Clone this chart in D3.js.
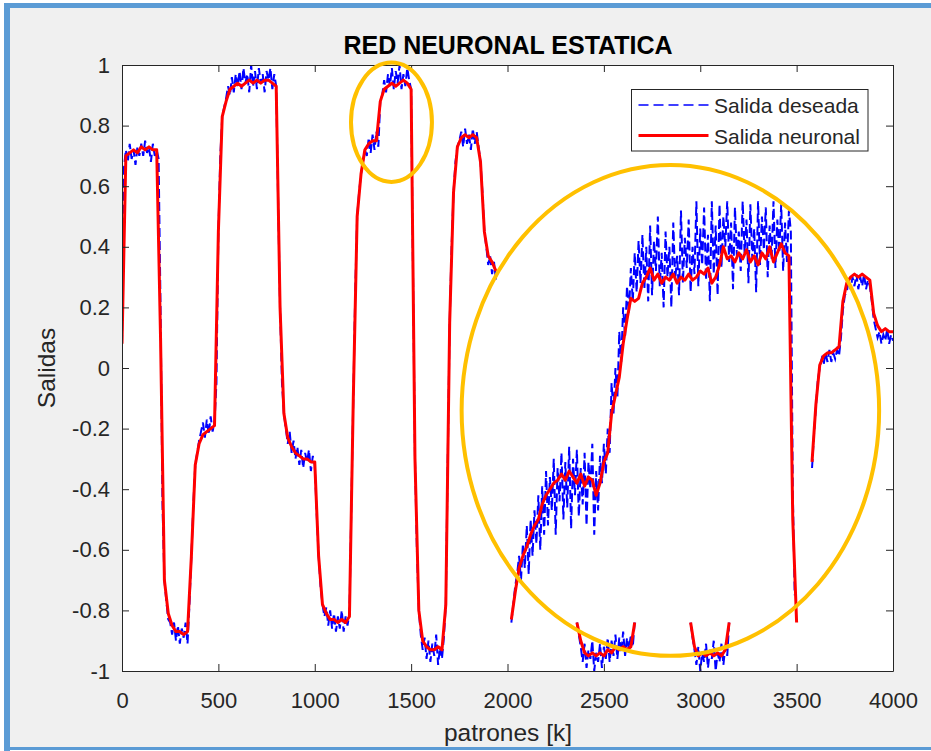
<!DOCTYPE html>
<html>
<head>
<meta charset="utf-8">
<script src="https://cdn.jsdelivr.net/npm/d3@7"></script>
<style>
  html, body { margin: 0; padding: 0; background: #ffffff; }
  svg { display: block; font-family: "Liberation Sans", Arial, Helvetica, sans-serif; }
</style>
</head>
<body>
<svg id="chart" width="931" height="751"></svg>
<script>
// ---- Datos ----
const xTicks = [0, 500, 1000, 1500, 2000, 2500, 3000, 3500, 4000];
const xTickLabels = ["0", "500", "1000", "1500", "2000", "2500", "3000", "3500", "4000"];
const yTicks = [-1, -0.8, -0.6, -0.4, -0.2, 0, 0.2, 0.4, 0.6, 0.8, 1];
const yTickLabels = ["-1", "-0.8", "-0.6", "-0.4", "-0.2", "0", "0.2", "0.4", "0.6", "0.8", "1"];
const legendLabels = ["Salida deseada", "Salida neuronal"];

// Salida neuronal (paso 20 patrones por muestra)
const neuronal1Inicio = 0;      // k = 0 .. 1940
const neuronal1 = [
  0.08, 0.70, 0.71, 0.72, 0.71, 0.73, 0.72, 0.73, 0.72, 0.72,
  0.10, -0.70, -0.81, -0.85, -0.87, -0.87, -0.88, -0.87, -0.62, -0.32,
  -0.25, -0.22, -0.21, -0.20, -0.19, 0.45, 0.83, 0.88, 0.92, 0.93,
  0.94, 0.93, 0.94, 0.95, 0.94, 0.95, 0.94, 0.95, 0.95, 0.94,
  0.93, 0.20, -0.15, -0.23, -0.26, -0.28, -0.29, -0.30, -0.30, -0.31,
  -0.31, -0.62, -0.78, -0.81, -0.83, -0.83, -0.84, -0.83, -0.84, -0.82,
  -0.10, 0.50, 0.64, 0.72, 0.74, 0.75, 0.75, 0.88, 0.92, 0.93,
  0.94, 0.93, 0.94, 0.95, 0.94, 0.92, -0.30, -0.80, -0.90, -0.92,
  -0.93, -0.93, -0.92, -0.93, -0.78, 0.15, 0.58, 0.73, 0.76, 0.77,
  0.76, 0.77, 0.76, 0.68, 0.45, 0.37, 0.35, 0.32
];
const neuronal2Inicio = 2020;   // k = 2020 .. 3500
const neuronal2 = [
  -0.83, -0.74, -0.66, -0.62, -0.59, -0.55, -0.52, -0.50, -0.45, -0.42,
  -0.40, -0.38, -0.37, -0.35, -0.37, -0.34, -0.36, -0.38, -0.35, -0.39,
  -0.36, -0.37, -0.42, -0.38, -0.31, -0.28, -0.15, -0.09, -0.03, 0.08,
  0.16, 0.23, 0.22, 0.23, 0.28, 0.30, 0.33, 0.29, 0.31, 0.28,
  0.30, 0.29, 0.31, 0.28, 0.30, 0.29, 0.31, 0.29, 0.30, 0.32,
  0.31, 0.33, 0.28, 0.30, 0.34, 0.40, 0.36, 0.37, 0.35, 0.38,
  0.36, 0.39, 0.35, 0.37, 0.34, 0.38, 0.36, 0.40, 0.35, 0.38,
  0.41, 0.38, 0.37, -0.50, -0.84
];
const neuronal3Inicio = 2360;   // k = 2360 .. 2660
const neuronal3 = [
  -0.84, -0.90, -0.94, -0.95, -0.94, -0.95, -0.94, -0.95, -0.93, -0.94,
  -0.92, -0.93, -0.92, -0.93, -0.92, -0.84
];
const neuronal4Inicio = 2950;   // k = 2950 .. 3150
const neuronal4 = [
  -0.84, -0.92, -0.95, -0.94, -0.95, -0.94, -0.95, -0.94, -0.95, -0.93, -0.84
];
const neuronal5Inicio = 3580;   // k = 3580 .. 4000
const neuronal5 = [
  -0.31, -0.12, 0.01, 0.04, 0.05, 0.05, 0.06, 0.07, 0.22, 0.28,
  0.30, 0.31, 0.30, 0.31, 0.30, 0.29, 0.18, 0.14, 0.12, 0.13,
  0.12, 0.12
];
const pasoNeuronal = 20;

// Salida deseada (paso 10 patrones por muestra)
const deseada1Inicio = 0;       // k = 0 .. 1940
const deseada1 = [
  0.08, 0.66, 0.72, 0.68, 0.74, 0.69, 0.72, 0.67, 0.73, 0.70,
  0.74, 0.70, 0.75, 0.71, 0.73, 0.68, 0.74, 0.70, 0.72, 0.69,
  0.20, -0.45, -0.70, -0.77, -0.83, -0.84, -0.88, -0.84, -0.90, -0.85,
  -0.91, -0.86, -0.89, -0.84, -0.91, -0.78, -0.62, -0.45, -0.32, -0.28,
  -0.24, -0.21, -0.18, -0.23, -0.17, -0.22, -0.16, -0.21, -0.18, -0.05,
  0.45, 0.70, 0.83, 0.86, 0.89, 0.93, 0.90, 0.96, 0.91, 0.97,
  0.93, 0.98, 0.92, 0.99, 0.94, 0.97, 0.91, 1.00, 0.93, 0.98,
  0.92, 0.99, 0.94, 0.97, 0.91, 0.98, 0.95, 0.99, 0.92, 0.97,
  0.93, 0.55, 0.20, -0.05, -0.15, -0.20, -0.25, -0.21, -0.28, -0.24,
  -0.30, -0.26, -0.32, -0.27, -0.33, -0.28, -0.31, -0.27, -0.34, -0.29,
  -0.32, -0.48, -0.62, -0.72, -0.78, -0.82, -0.79, -0.85, -0.80, -0.86,
  -0.81, -0.87, -0.82, -0.86, -0.80, -0.87, -0.82, -0.85, -0.81, -0.45,
  -0.10, 0.25, 0.50, 0.58, 0.64, 0.68, 0.72, 0.70, 0.76, 0.71,
  0.77, 0.72, 0.78, 0.73, 0.88, 0.90, 0.95, 0.91, 0.97, 0.93,
  0.99, 0.92, 0.98, 0.94, 1.00, 0.92, 0.97, 0.93, 0.99, 0.95,
  0.92, 0.30, -0.30, -0.60, -0.80, -0.88, -0.93, -0.89, -0.96, -0.90,
  -0.97, -0.91, -0.95, -0.88, -0.98, -0.92, -0.96, -0.89, -0.78, -0.30,
  0.15, 0.40, 0.58, 0.68, 0.73, 0.75, 0.78, 0.73, 0.79, 0.74,
  0.77, 0.72, 0.79, 0.74, 0.78, 0.73, 0.68, 0.58, 0.45, 0.40,
  0.34, 0.37, 0.31, 0.35, 0.29
];
const deseada2Inicio = 2020;    // k = 2020 .. 3490
const deseada2 = [
  -0.84, -0.78, -0.72, -0.68, -0.62, -0.70, -0.58, -0.66,
  -0.52, -0.68, -0.50, -0.62, -0.47, -0.58, -0.42, -0.60, -0.39, -0.55,
  -0.34, -0.52, -0.36, -0.47, -0.30, -0.55, -0.33, -0.44, -0.28, -0.50,
  -0.31, -0.46, -0.26, -0.53, -0.30, -0.42, -0.27, -0.49, -0.33, -0.45,
  -0.28, -0.52, -0.31, -0.40, -0.25, -0.55, -0.34, -0.47, -0.29, -0.38,
  -0.25, -0.35, -0.20, -0.28, -0.05, -0.15, 0.00, -0.10, 0.12, 0.02,
  0.20, 0.10, 0.27, 0.18, 0.33, 0.22, 0.38, 0.25, 0.42, 0.28,
  0.44, 0.26, 0.40, 0.22, 0.47, 0.24, 0.42, 0.32, 0.50, 0.27,
  0.38, 0.20, 0.45, 0.30, 0.40, 0.20, 0.48, 0.29, 0.37, 0.24,
  0.52, 0.28, 0.43, 0.33, 0.49, 0.25, 0.40, 0.31, 0.55, 0.27,
  0.46, 0.34, 0.53, 0.29, 0.44, 0.22, 0.55, 0.31, 0.47, 0.24,
  0.54, 0.33, 0.50, 0.40, 0.55, 0.35, 0.48, 0.26, 0.53, 0.37,
  0.45, 0.32, 0.55, 0.38, 0.49, 0.28, 0.54, 0.36, 0.46, 0.25,
  0.55, 0.34, 0.50, 0.39, 0.53, 0.30, 0.47, 0.36, 0.55, 0.33,
  0.49, 0.38, 0.54, 0.32, 0.48, 0.35, 0.52, 0.45, -0.40, -0.75
];
const deseada3Inicio = 2360;    // k = 2360 .. 2660
const deseada3 = [
  -0.84, -0.88, -0.92, -0.97, -0.91, -0.99, -0.93, -0.96, -0.90, -1.00,
  -0.94, -0.97, -0.91, -0.99, -0.92, -0.96, -0.89, -0.97, -0.90, -0.95,
  -0.88, -0.96, -0.89, -0.94, -0.87, -0.95, -0.89, -0.93, -0.88, -0.92,
  -0.84
];
const deseada4Inicio = 2950;    // k = 2950 .. 3150
const deseada4 = [
  -0.84, -0.89, -0.93, -0.98, -0.92, -1.00, -0.94, -0.97, -0.91, -0.99,
  -0.93, -0.96, -0.90, -1.00, -0.94, -0.97, -0.91, -0.98, -0.92, -0.95,
  -0.84
];
const deseada5Inicio = 3580;    // k = 3580 .. 4000
const deseada5 = [
  -0.33, -0.22, -0.13, -0.04, 0.00, 0.03, 0.01, 0.05, 0.02, 0.06,
  0.02, 0.05, 0.03, 0.06, 0.04, 0.10, 0.19, 0.24, 0.25, 0.29,
  0.26, 0.30, 0.27, 0.31, 0.26, 0.30, 0.27, 0.31, 0.26, 0.29,
  0.27, 0.22, 0.16, 0.13, 0.10, 0.12, 0.08, 0.11, 0.09, 0.13,
  0.08, 0.11, 0.09
];
const pasoDeseada = 10;

// ---- Geometría de la figura ----
const W = 931, H = 751;
const area = { left: 122, right: 893, top: 65, bottom: 671 };
const ink = "#262626";

const svg = d3.select("#chart");

// Marco de la ventana
svg.append("rect").attr("x", 0).attr("y", 0).attr("width", W).attr("height", H).attr("fill", "#ffffff");
svg.append("rect").attr("x", 10).attr("y", 7).attr("width", W - 10).attr("height", 740).attr("fill", "#f0f0f0");
svg.append("rect").attr("x", 4).attr("y", 3).attr("width", W - 4).attr("height", 5).attr("fill", "#5b9bd5");
svg.append("rect").attr("x", 4).attr("y", 3).attr("width", 6).attr("height", H - 3).attr("fill", "#5b9bd5");
svg.append("rect").attr("x", 4).attr("y", 747).attr("width", W - 4).attr("height", 3).attr("fill", "#5b9bd5");

const x = d3.scaleLinear().domain([0, 4000]).range([area.left, area.right]);
const y = d3.scaleLinear().domain([-1, 1]).range([area.bottom, area.top]);

// Fondo de los ejes
svg.append("rect")
  .attr("x", area.left + 0.5).attr("y", area.top + 0.5)
  .attr("width", area.right - area.left).attr("height", area.bottom - area.top)
  .attr("fill", "#ffffff");

svg.append("clipPath").attr("id", "recorte")
  .append("rect")
  .attr("x", area.left + 0.5).attr("y", area.top + 0.5)
  .attr("width", area.right - area.left).attr("height", area.bottom - area.top);

const tramo = (inicio, paso, valores) => valores.map((v, i) => [inicio + i * paso, v]);

const tramosDeseada = [
  tramo(deseada1Inicio, pasoDeseada, deseada1),
  tramo(deseada2Inicio, pasoDeseada, deseada2),
  tramo(deseada3Inicio, pasoDeseada, deseada3),
  tramo(deseada4Inicio, pasoDeseada, deseada4),
  tramo(deseada5Inicio, pasoDeseada, deseada5)
];
const tramosNeuronal = [
  tramo(neuronal1Inicio, pasoNeuronal, neuronal1),
  tramo(neuronal2Inicio, pasoNeuronal, neuronal2),
  tramo(neuronal3Inicio, pasoNeuronal, neuronal3),
  tramo(neuronal4Inicio, pasoNeuronal, neuronal4),
  tramo(neuronal5Inicio, pasoNeuronal, neuronal5)
];

const linea = d3.line().x(d => x(d[0])).y(d => y(d[1]));

const trazos = svg.append("g").attr("clip-path", "url(#recorte)");

trazos.selectAll("path.deseada").data(tramosDeseada).join("path")
  .attr("class", "deseada")
  .attr("d", linea)
  .attr("fill", "none")
  .attr("stroke", "#0000ff")
  .attr("stroke-width", 2)
  .attr("stroke-dasharray", "9,4");

trazos.selectAll("path.neuronal").data(tramosNeuronal).join("path")
  .attr("class", "neuronal")
  .attr("d", linea)
  .attr("fill", "none")
  .attr("stroke", "#ff0000")
  .attr("stroke-width", 3)
  .attr("stroke-linejoin", "round");

// Ejes (marcas hacia dentro, caja completa)
function estilo(g) {
  g.attr("font-size", null).attr("font-family", null);
  g.select(".domain").attr("stroke", ink).attr("stroke-width", 1);
  g.selectAll(".tick line").attr("stroke", ink).attr("stroke-width", 1);
  g.selectAll(".tick text").attr("fill", ink).style("font-size", "22px");
}

svg.append("g")
  .attr("transform", `translate(0,${area.bottom})`)
  .call(d3.axisBottom(x).tickValues(xTicks).tickSizeInner(-7).tickSizeOuter(0)
    .tickPadding(21).tickFormat((d, i) => xTickLabels[i]))
  .call(estilo);

svg.append("g")
  .attr("transform", `translate(0,${area.top})`)
  .call(d3.axisTop(x).tickValues(xTicks).tickSizeInner(-7).tickSizeOuter(0).tickFormat(""))
  .call(estilo);

svg.append("g")
  .attr("transform", `translate(${area.left},0)`)
  .call(d3.axisLeft(y).tickValues(yTicks).tickSizeInner(-7).tickSizeOuter(0)
    .tickPadding(12).tickFormat((d, i) => yTickLabels[i]))
  .call(estilo);

svg.append("g")
  .attr("transform", `translate(${area.right},0)`)
  .call(d3.axisRight(y).tickValues(yTicks).tickSizeInner(-7).tickSizeOuter(0).tickFormat(""))
  .call(estilo);

// Títulos
svg.append("text")
  .attr("x", (area.left + area.right) / 2 + 0.5).attr("y", 54)
  .attr("text-anchor", "middle")
  .attr("font-weight", "bold").attr("font-size", 25).attr("fill", "#000000")
  .text("RED NEURONAL ESTATICA");

svg.append("text")
  .attr("x", (area.left + area.right) / 2 + 0.5).attr("y", 741)
  .attr("text-anchor", "middle")
  .attr("font-size", 24.5).attr("fill", ink)
  .text("patrones [k]");

svg.append("text")
  .attr("transform", `translate(55,${(area.top + area.bottom) / 2}) rotate(-90)`)
  .attr("text-anchor", "middle")
  .attr("font-size", 24.5).attr("fill", ink)
  .text("Salidas");

// Leyenda
const leyenda = svg.append("g").attr("transform", "translate(631.5,89.5)");
leyenda.append("rect")
  .attr("width", 236.5).attr("height", 61.5)
  .attr("fill", "#ffffff").attr("stroke", ink).attr("stroke-width", 1);
const estilosLeyenda = [
  { color: "#0000ff", ancho: 1.5, guiones: "10,5" },
  { color: "#ff0000", ancho: 3, guiones: null }
];
legendLabels.forEach((t, i) => {
  const yy = 15.5 + i * 30.5;
  leyenda.append("line")
    .attr("x1", 7).attr("x2", 77).attr("y1", yy).attr("y2", yy)
    .attr("stroke", estilosLeyenda[i].color)
    .attr("stroke-width", estilosLeyenda[i].ancho)
    .attr("stroke-dasharray", estilosLeyenda[i].guiones);
  leyenda.append("text")
    .attr("x", 82.5).attr("y", yy + 8.2)
    .attr("font-size", 21).attr("fill", ink)
    .text(t);
});

// Resaltado de zonas (elipses en unidades de datos)
const zonas = [
  { k: 1398, v: 0.811, rk: 210, rv: 0.197 },
  { k: 2845, v: -0.140, rk: 1083, rv: 0.810 }
];
svg.selectAll("ellipse.zona").data(zonas).join("ellipse")
  .attr("class", "zona")
  .attr("cx", d => x(d.k)).attr("cy", d => y(d.v))
  .attr("rx", d => x(d.rk) - x(0)).attr("ry", d => y(0) - y(d.rv))
  .attr("fill", "none")
  .attr("stroke", "#ffc000")
  .attr("stroke-width", 4);
</script>
</body>
</html>
